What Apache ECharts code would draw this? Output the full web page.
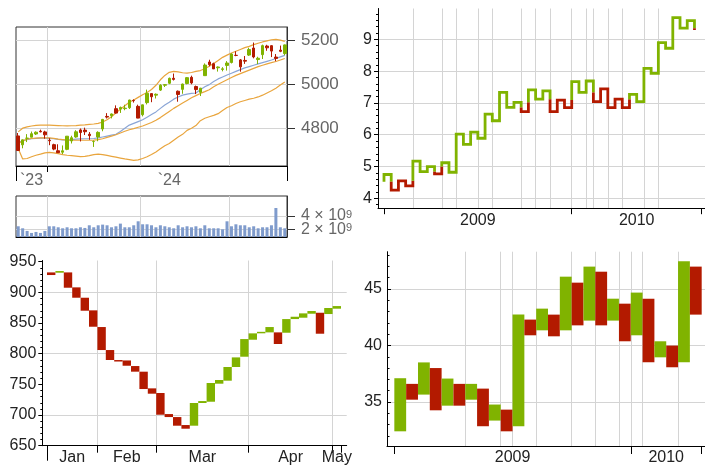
<!DOCTYPE html>
<html><head><meta charset="utf-8">
<script src="https://cdn.jsdelivr.net/npm/echarts@6/dist/echarts.min.js"></script>
<style>html,body{margin:0;padding:0;background:#fff}#c{width:705px;height:470px}</style>
</head><body><div id="c"></div>
<script>
// ===================== DATA =====================
// --- Panel A (top-left): daily candles, Dec 2023 - Mar 2024 ---
const tlDates = ['2023-12-20','2023-12-21','2023-12-22','2023-12-26','2023-12-27','2023-12-28','2023-12-29',
 '2024-01-02','2024-01-03','2024-01-04','2024-01-05','2024-01-08','2024-01-09','2024-01-10','2024-01-11','2024-01-12',
 '2024-01-16','2024-01-17','2024-01-18','2024-01-19','2024-01-22','2024-01-23','2024-01-24','2024-01-25','2024-01-26',
 '2024-01-29','2024-01-30','2024-01-31','2024-02-01','2024-02-02','2024-02-05','2024-02-06','2024-02-07','2024-02-08',
 '2024-02-09','2024-02-12','2024-02-13','2024-02-14','2024-02-15','2024-02-16','2024-02-20','2024-02-21','2024-02-22',
 '2024-02-23','2024-02-26','2024-02-27','2024-02-28','2024-02-29','2024-03-01','2024-03-04','2024-03-05','2024-03-06',
 '2024-03-07','2024-03-08','2024-03-11','2024-03-12','2024-03-13','2024-03-14','2024-03-15','2024-03-18','2024-03-19'];
const tlOpen  = [4764.7,4724.3,4753.9,4758.9,4773.5,4786.4,4782.9,4745.2,4725.1,4697.4,4690.6,4703.7,4741.9,4759.9,4792.1,4791.2,4772.4,4739.1,4760.1,4796.3,4853.4,4856.8,4888.6,4886.7,4888.9,4893.0,4925.9,4899.2,4861.1,4916.1,4957.2,4950.2,4973.1,4995.2,5004.2,5026.8,4967.9,4976.4,5003.1,5031.1,4989.3,4963.0,5038.8,5100.9,5093.0,5074.6,5067.2,5085.4,5098.5,5131.0,5110.5,5108.0,5132.4,5164.5,5112.0,5134.3,5173.5,5175.1,5123.3,5154.8,5139.1];
const tlHigh  = [4778.0,4748.7,4772.9,4784.7,4785.4,4793.3,4788.4,4754.3,4729.3,4726.8,4721.5,4764.5,4765.5,4790.8,4798.5,4802.4,4782.3,4744.2,4785.8,4842.1,4868.4,4866.5,4903.7,4898.2,4906.7,4929.3,4931.1,4906.8,4907.0,4975.3,4957.2,4957.8,4999.9,5000.4,5030.1,5048.4,4971.3,5002.5,5032.7,5038.7,4993.7,4983.2,5094.4,5111.1,5097.7,5080.7,5077.4,5105.0,5140.3,5149.7,5114.5,5128.0,5165.6,5189.3,5124.7,5179.9,5179.1,5176.9,5136.9,5175.6,5180.3];
const tlLow   = [4697.8,4708.4,4736.8,4758.5,4768.9,4781.0,4752.0,4722.7,4699.7,4687.5,4682.1,4699.8,4730.4,4756.2,4739.6,4769.0,4747.1,4714.8,4740.6,4785.9,4844.1,4844.4,4865.9,4869.3,4881.5,4887.4,4916.3,4845.2,4853.5,4908.0,4918.1,4934.9,4969.1,4987.1,5000.3,5016.8,4920.3,4956.5,4999.4,4999.5,4955.0,4946.0,5038.8,5081.5,5068.9,5057.3,5058.4,5061.9,5094.2,5127.2,5056.8,5092.2,5128.2,5117.5,5091.1,5114.5,5151.9,5123.3,5104.4,5145.5,5131.6];
const tlClose = [4698.4,4746.8,4754.6,4774.8,4781.6,4783.4,4769.8,4742.8,4704.8,4688.7,4697.2,4763.5,4756.5,4783.5,4780.2,4783.8,4766.0,4739.2,4780.9,4839.8,4850.4,4864.6,4868.6,4894.2,4891.0,4927.9,4925.0,4845.7,4906.2,4958.6,4942.8,4954.2,4995.1,4997.9,5026.6,5021.8,4953.2,5000.6,5029.7,5005.6,4975.5,4981.8,5087.0,5088.8,5069.5,5078.2,5069.8,5096.3,5137.1,5130.9,5078.7,5104.8,5157.4,5123.7,5117.9,5175.3,5165.3,5150.5,5117.1,5149.4,5178.5];
const tlUpperBand = [4783,4800,4806,4810,4813,4814,4814,4814,4813,4812,4811,4810,4811,4812,4814,4815,4817,4819,4822,4828,4838,4852,4870,4886,4902,4918,4928,4940,4952,4962,4976,4995,5020,5040,5054,5058,5056,5052,5050,5053,5058,5062,5070,5082,5094,5108,5122,5132,5142,5150,5158,5166,5172,5180,5186,5192,5197,5202,5204,5200,5195];
const tlMidBand   = [4730,4742,4750,4753,4755,4756,4756,4756,4754,4750,4748,4746,4745,4745,4745,4745,4745,4746,4748,4752,4758,4764,4770,4778,4786,4793,4798,4804,4810,4818,4826,4836,4848,4862,4876,4890,4902,4914,4926,4938,4948,4958,4966,4975,4988,5000,5010,5020,5030,5040,5048,5056,5064,5072,5080,5086,5092,5098,5103,5110,5117];
const tlLowerBand = [4708,4660,4662,4670,4677,4682,4688,4690,4688,4684,4680,4677,4675,4673,4671,4672,4675,4680,4682,4680,4676,4672,4668,4664,4660,4657,4654,4656,4662,4670,4680,4692,4706,4720,4730,4745,4760,4772,4790,4800,4812,4834,4845,4852,4858,4866,4880,4894,4902,4912,4920,4926,4932,4936,4942,4950,4960,4970,4982,4996,5010];
const tlAvgLine   = [4735,4742,4748,4752,4754,4755,4755,4754,4752,4749,4747,4747,4748,4750,4751,4752,4752,4753,4756,4760,4764,4768,4772,4785,4800,4814,4822,4830,4838,4850,4862,4874,4890,4905,4918,4932,4942,4950,4955,4958,4960,4975,4988,4998,5012,5024,5033,5042,5050,5058,5066,5074,5080,5086,5092,5098,5104,5110,5117,5124,5131];
const tlVolumeBn  = [2.45,2.15,1.75,1.45,1.6,1.45,1.75,2.45,2.45,2.3,2.15,2.3,2.15,2.15,2.3,2.2,2.6,2.3,2.6,2.7,2.6,2.3,2.45,2.85,2.3,2.3,2.6,3.2,2.75,2.75,2.6,2.3,2.6,2.45,2.3,2.15,2.6,2.3,2.45,2.3,2.45,2.15,2.6,2.15,2.15,2.15,2.0,3.2,2.45,2.75,2.6,2.6,2.3,2.45,2.15,2.3,2.3,2.6,5.2,2.3,2.15];
const tlYTicks = [4800, 5000, 5200];
const tlVolTickLow = [2];
const tlVolTickHigh = [4];
const tlLabelIdx = [3, 34];
const tlLabelText = ['`23', '`24'];
const tlMonthStartIdx = [7, 28, 48];

// --- Panel B (top-right): Kagi reversal levels ---
const kagiStart = 4.52;
const kagiLevels = [4.75,4.26,4.55,4.39,5.17,4.84,5.0,4.77,5.12,4.82,
  6.02,5.70,6.08,5.89,6.65,6.44,7.33,6.86,7.02,6.73,
  7.41,7.12,7.38,6.73,7.09,6.85,7.67,7.33,7.69,7.04,
  7.44,6.85,7.12,6.85,7.27,7.04,8.09,7.93,8.9,8.72,
  9.68,9.35,9.59,9.29];
const trYTicks = [4,5,6,7,8,9];
const trYMinor = [3.8,4.2,4.4,4.6,4.8,5.2,5.4,5.6,5.8,6.2,6.4,6.6,6.8,7.2,7.4,7.6,7.8,8.2,8.4,8.6,8.8,9.2,9.4,9.6,9.8];
const trGridK = [4,8,10,13,15,19,21,23,26,28,29,31,33,36,38];
const trTickK = [0, 26, 44];
const trLabelK = [13, 35];
const trLabelText = ['2009', '2010'];

// --- Panel C (bottom-left): open/close boxes, Jan - May ---
const blOpen  = [932.6,932.1,932.6,908.2,891.3,870.7,843.5,806.0,789.7,789.0,779.9,770.7,743.5,735.9,701.6,696.7,683.7,682.6,719.6,721.7,751.1,756.0,778.3,795.1,822.8,833.7,834.8,834.8,834.2,856.5,858.7,865.2,866.8,864.7,873.4];
const blClose = [928.3,934.8,907.6,891.3,870.1,844.0,806.0,789.7,788.6,780.4,770.7,742.4,734.8,700.5,696.7,682.6,677.7,719.6,722.8,752.2,757.1,778.3,794.0,823.9,833.2,835.7,843.5,815.8,856.5,860.3,865.8,869.6,832.6,874.5,877.7];
const blYTicks = [650,700,750,800,850,900,950];
const blYMinor = [660,670,680,690,710,720,730,740,760,770,780,790,810,820,830,840,860,870,880,890,910,920,930,940];
const blYGrid = [700,800,900];
const blMonthTicks = [6,13,24,34,35];
const blLongTicks = [0];
const blMonthGrid = [6,13,24,34];
const blMonthLabelPos = [3,9.5,18.5,29,34.5];
const blMonthLabels = ['Jan','Feb','Mar','Apr','May'];

// --- Panel D (bottom-right): open/close boxes ---
const brOpen  = [32.4,36.6,35.65,38.0,34.67,36.6,35.2,36.18,33.35,34.32,32.85,42.29,41.34,42.73,41.34,45.56,42.2,46.53,42.2,43.7,40.9,44.14,38.95,39.99,38.51,46.98];
const brClose = [37.1,35.2,38.5,34.26,37.07,34.67,36.6,32.85,34.77,32.4,42.73,40.9,43.26,40.81,46.09,41.78,46.98,41.78,44.14,40.37,44.68,38.51,40.37,38.07,47.45,42.73];
const brYTicks = [35,40,45];
const brYMinor = [32,33,34,36,37,38,39,41,42,43,44,46,47,48];
const brGridK = [6,9,10,12,15,17,19,20,21,24];
const brTickK = [0,20,26];
const brLabelK = [10,23];
const brLabelText = ['2009','2010'];

// ===================== STYLE =====================
const GREEN = '#80b300', RED = '#b31a00';
const FONT = "'Liberation Sans', Arial, sans-serif";
const DARK = '#222', GRAY = '#666', GRID = '#d4d4d4', AXIS = '#333';

function hiddenAxis(extra) {
  return Object.assign({
    axisLine: {show: false, onZero: false}, axisTick: {show: false},
    axisLabel: {show: false}, splitLine: {show: false}
  }, extra);
}
function pick(posArr, textArr) {
  return function (v) {
    let best = 0;
    for (let i = 1; i < posArr.length; i++) if (Math.abs(posArr[i] - v) < Math.abs(posArr[best] - v)) best = i;
    return textArr[best];
  };
}

// ----- Kagi runs (color state by Kagi rule) -----
function buildKagiRuns() {
  const runs = [];
  let color = 'up', prevShoulder = null, prevWaist = kagiStart, from = kagiStart;
  let cur = {c: color, pts: [[0, kagiStart]]};
  for (let k = 0; k < kagiLevels.length; k++) {
    const to = kagiLevels[k];
    if (to > from) {
      if (color === 'down' && prevShoulder !== null && to > prevShoulder && from < prevShoulder) {
        cur.pts.push([k, prevShoulder]); runs.push(cur); color = 'up';
        cur = {c: color, pts: [[k, prevShoulder]]};
      }
    } else {
      if (color === 'up' && to < prevWaist && from > prevWaist) {
        cur.pts.push([k, prevWaist]); runs.push(cur); color = 'down';
        cur = {c: color, pts: [[k, prevWaist]]};
      }
    }
    cur.pts.push([k, to]);
    if (to > from) prevShoulder = to; else prevWaist = to;
    if (k < kagiLevels.length - 1) cur.pts.push([k + 1, to]);
    from = to;
  }
  runs.push(cur);
  return runs;
}
const kagiSeries = buildKagiRuns().map(r => ({
  type: 'line', xAxisIndex: 3, yAxisIndex: 2, data: r.pts, symbol: 'none',
  lineStyle: {color: r.c === 'up' ? GREEN : RED, width: 2.8, join: 'miter', cap: 'butt'},
  itemStyle: {color: r.c === 'up' ? GREEN : RED}, z: 3, silent: true
}));

function boxRender(params, api) {
  const k = api.value(0), o = api.value(1), c = api.value(2);
  const a = api.coord([k, Math.max(o, c)]);
  const b = api.coord([k + 1, Math.min(o, c)]);
  return {type: 'rect',
    shape: {x: a[0], y: a[1], width: b[0] - a[0], height: Math.max(b[1] - a[1], 1.5)},
    style: {fill: c >= o ? GREEN : RED}};
}

const lblDark = {color: DARK, fontSize: 16, fontFamily: FONT, hideOverlap: false};
const lblGray = {color: GRAY, fontSize: 16, fontFamily: FONT, hideOverlap: false};
const volRich = {a: {color: GRAY, fontSize: 16, fontFamily: FONT, lineHeight: 13},
                 s: {color: GRAY, fontSize: 11, fontFamily: FONT, verticalAlign: 'top', lineHeight: 13, padding: [0, 0, 5, 0]}};
const volFmt = (v) => '{a|' + v + ' \u00d7 10}{s|9}';

const option = {
  animation: false,
  backgroundColor: '#fff',
  grid: [
    {left: 16, top: 27, width: 271, height: 139, show: true, borderColor: AXIS, borderWidth: 1, containLabel: false},
    {left: 16, top: 196, width: 271, height: 41, show: true, borderColor: AXIS, borderWidth: 1},
    {left: 378, top: 8.5, width: 327, height: 199.7},
    {left: 42.3, top: 260.5, width: 304.4, height: 185.2},
    {left: 387, top: 251.7, width: 318, height: 194.3}
  ],
  xAxis: [
    // 0: top-left main
    {type: 'category', gridIndex: 0, data: tlDates, boundaryGap: true,
      axisLine: {show: true, lineStyle: {color: '#000', width: 1}},
      axisTick: {show: true, interval: (i) => i === 0 || i === 7, length: 6, lineStyle: {color: '#000'}},
      axisLabel: {show: true, interval: (i) => tlLabelIdx.indexOf(i) >= 0, margin: 7,
        formatter: (v, i) => { const j = tlLabelIdx.indexOf(i); return j >= 0 ? tlLabelText[j] : ''; }, ...lblGray},
      splitLine: {show: true, interval: (i) => tlMonthStartIdx.indexOf(i) >= 0, lineStyle: {color: GRID, width: 1}}},
    // 1: top-left long edge ticks
    {type: 'category', gridIndex: 0, data: tlDates, boundaryGap: true, position: 'bottom',
      axisLine: {show: false}, axisLabel: {show: false}, splitLine: {show: false},
      axisTick: {show: true, interval: (i) => i === 0, length: 15, lineStyle: {color: '#000'}}},
    // 2: volume
    {type: 'category', gridIndex: 1, data: tlDates, boundaryGap: true,
      axisLine: {show: true, lineStyle: {color: '#000'}}, axisTick: {show: false}, axisLabel: {show: false},
      splitLine: {show: true, interval: (i) => tlMonthStartIdx.indexOf(i) >= 0, lineStyle: {color: GRID, width: 1}}},
    // 3: top-right main
    {type: 'value', gridIndex: 2, min: -0.83, max: 44.46,
      axisLine: {show: true, onZero: false, lineStyle: {color: '#000'}},
      axisTick: {show: true, customValues: trTickK, length: 6, lineStyle: {color: '#000'}},
      axisLabel: {show: true, customValues: trLabelK, formatter: pick(trLabelK, trLabelText), margin: 4, ...lblDark},
      splitLine: {show: false}},
    // 4: top-right vertical gridlines
    hiddenAxis({type: 'value', gridIndex: 2, min: -0.83, max: 44.46, position: 'top',
      axisTick: {show: false, customValues: trGridK},
      splitLine: {show: true, lineStyle: {color: GRID, width: 1}}}),
    // 5: bottom-left main
    {type: 'value', gridIndex: 3, min: -0.56, max: 35.68,
      axisLine: {show: true, onZero: false, lineStyle: {color: '#000'}},
      axisTick: {show: true, customValues: blMonthTicks, length: 7, lineStyle: {color: '#000'}},
      axisLabel: {show: true, customValues: blMonthLabelPos, formatter: pick(blMonthLabelPos, blMonthLabels), margin: 4, ...lblDark},
      splitLine: {show: false}},
    // 6: bottom-left gridlines
    hiddenAxis({type: 'value', gridIndex: 3, min: -0.56, max: 35.68, position: 'top',
      axisTick: {show: false, customValues: blMonthGrid},
      splitLine: {show: true, lineStyle: {color: GRID, width: 1}}}),
    // 7: bottom-right main
    {type: 'value', gridIndex: 4, min: -0.62, max: 26.28,
      axisLine: {show: true, onZero: false, lineStyle: {color: '#000'}},
      axisTick: {show: true, customValues: brTickK, length: 8, lineStyle: {color: '#000'}},
      axisLabel: {show: true, customValues: brLabelK, formatter: pick(brLabelK, brLabelText), margin: 4, ...lblDark},
      splitLine: {show: false}},
    // 8: bottom-right gridlines
    hiddenAxis({type: 'value', gridIndex: 4, min: -0.62, max: 26.28, position: 'top',
      axisTick: {show: false, customValues: brGridK},
      splitLine: {show: true, lineStyle: {color: GRID, width: 1}}}),
    // 9: bottom-left long first tick
    hiddenAxis({type: 'value', gridIndex: 3, min: -0.56, max: 35.68, position: 'bottom',
      axisTick: {show: true, customValues: blLongTicks, length: 15, lineStyle: {color: '#000'}}})
  ],
  yAxis: [
    // 0: top-left price
    {type: 'value', gridIndex: 0, position: 'right', min: 4628, max: 5260,
      axisLine: {show: true, onZero: false, lineStyle: {color: AXIS}},
      axisTick: {show: true, customValues: tlYTicks, length: 8, lineStyle: {color: AXIS}},
      axisLabel: {show: true, customValues: tlYTicks, formatter: (v) => String(v), margin: 14, ...lblGray, fontSize: 17},
      splitLine: {show: true, lineStyle: {color: GRID, width: 1}}},
    // 1: volume (billions), low tick
    {type: 'value', gridIndex: 1, position: 'right', min: 0.84, max: 7.0,
      axisLine: {show: true, onZero: false, lineStyle: {color: AXIS}},
      axisTick: {show: true, customValues: tlVolTickLow, length: 8, lineStyle: {color: AXIS}},
      axisLabel: {show: true, customValues: tlVolTickLow, margin: 14, hideOverlap: false, formatter: volFmt, rich: volRich},
      splitLine: {show: true, lineStyle: {color: GRID, width: 1}}},
    // 2: top-right main
    {type: 'value', gridIndex: 2, position: 'left', min: 3.69, max: 9.97,
      axisLine: {show: true, onZero: false, lineStyle: {color: '#000'}},
      axisTick: {show: true, customValues: trYTicks, length: 4, lineStyle: {color: '#000'}},
      axisLabel: {show: true, customValues: trYTicks, margin: 6, ...lblDark},
      splitLine: {show: true, lineStyle: {color: GRID, width: 1}}},
    // 3: top-right minor ticks
    hiddenAxis({type: 'value', gridIndex: 2, position: 'left', min: 3.69, max: 9.97,
      axisTick: {show: true, customValues: trYMinor, length: 2, lineStyle: {color: '#000'}}}),
    // 4: bottom-left main
    {type: 'value', gridIndex: 3, position: 'left', min: 650, max: 952,
      axisLine: {show: true, onZero: false, lineStyle: {color: '#000'}},
      axisTick: {show: true, customValues: blYTicks, length: 4, lineStyle: {color: '#000'}},
      axisLabel: {show: true, customValues: blYTicks, margin: 6, ...lblDark},
      splitLine: {show: false}},
    // 5: bottom-left horizontal gridlines
    hiddenAxis({type: 'value', gridIndex: 3, position: 'left', min: 650, max: 952,
      axisTick: {show: false, customValues: blYGrid},
      splitLine: {show: true, lineStyle: {color: GRID, width: 1}}}),
    // 6: bottom-right main
    {type: 'value', gridIndex: 4, position: 'left', min: 31.1, max: 48.3,
      axisLine: {show: true, onZero: false, lineStyle: {color: '#000'}},
      axisTick: {show: true, inside: true, customValues: brYTicks, length: 4, lineStyle: {color: '#000'}},
      axisLabel: {show: true, customValues: brYTicks, margin: 5, ...lblDark},
      splitLine: {show: true, lineStyle: {color: GRID, width: 1}}},
    // 7: bottom-right minor ticks
    hiddenAxis({type: 'value', gridIndex: 4, position: 'left', min: 31.1, max: 48.3,
      axisTick: {show: true, inside: true, customValues: brYMinor, length: 2.5, lineStyle: {color: '#000'}}}),
    // 8: bottom-left minor ticks
    hiddenAxis({type: 'value', gridIndex: 3, position: 'left', min: 650, max: 952,
      axisTick: {show: true, customValues: blYMinor, length: 2, lineStyle: {color: '#000'}}}),
    // 9: volume, high tick (separate axis so both labels stay visible)
    hiddenAxis({type: 'value', gridIndex: 1, position: 'right', min: 0.84, max: 7.0,
      axisTick: {show: true, customValues: tlVolTickHigh, length: 8, lineStyle: {color: AXIS}},
      axisLabel: {show: true, customValues: tlVolTickHigh, margin: 14, hideOverlap: false, formatter: volFmt, rich: volRich},
      splitLine: {show: true, lineStyle: {color: GRID, width: 1}}})
  ],
  series: [
    {type: 'line', xAxisIndex: 0, yAxisIndex: 0, data: tlAvgLine, symbol: 'none', lineStyle: {color: '#8aa5d6', width: 1.2}, z: 2},
    {type: 'line', xAxisIndex: 0, yAxisIndex: 0, data: tlUpperBand, symbol: 'none', lineStyle: {color: '#e9a53d', width: 1.2}, z: 2},
    {type: 'line', xAxisIndex: 0, yAxisIndex: 0, data: tlMidBand, symbol: 'none', lineStyle: {color: '#e9a53d', width: 1.2}, z: 2},
    {type: 'line', xAxisIndex: 0, yAxisIndex: 0, data: tlLowerBand, symbol: 'none', lineStyle: {color: '#e9a53d', width: 1.2}, z: 2},
    {type: 'candlestick', xAxisIndex: 0, yAxisIndex: 0, barWidth: 3,
      data: tlOpen.map((o, i) => [o, tlClose[i], tlLow[i], tlHigh[i]]),
      itemStyle: {color: GREEN, color0: RED, borderColor: GREEN, borderColor0: RED, borderWidth: 1}, z: 3},
    {type: 'bar', xAxisIndex: 2, yAxisIndex: 1, data: tlVolumeBn, barWidth: 3,
      itemStyle: {color: '#7f9bcc'}, z: 2},
    ...kagiSeries,
    {type: 'custom', xAxisIndex: 5, yAxisIndex: 4, renderItem: boxRender, encode: {x: 0, y: [1, 2]},
      data: blOpen.map((o, i) => [i, o, blClose[i]]), z: 3},
    {type: 'custom', xAxisIndex: 7, yAxisIndex: 6, renderItem: boxRender, encode: {x: 0, y: [1, 2]},
      data: brOpen.map((o, i) => [i, o, brClose[i]]), z: 3}
  ]
};
const chart = echarts.init(document.getElementById('c'), null, {renderer: 'canvas'});
chart.setOption(option);
</script></body></html>
